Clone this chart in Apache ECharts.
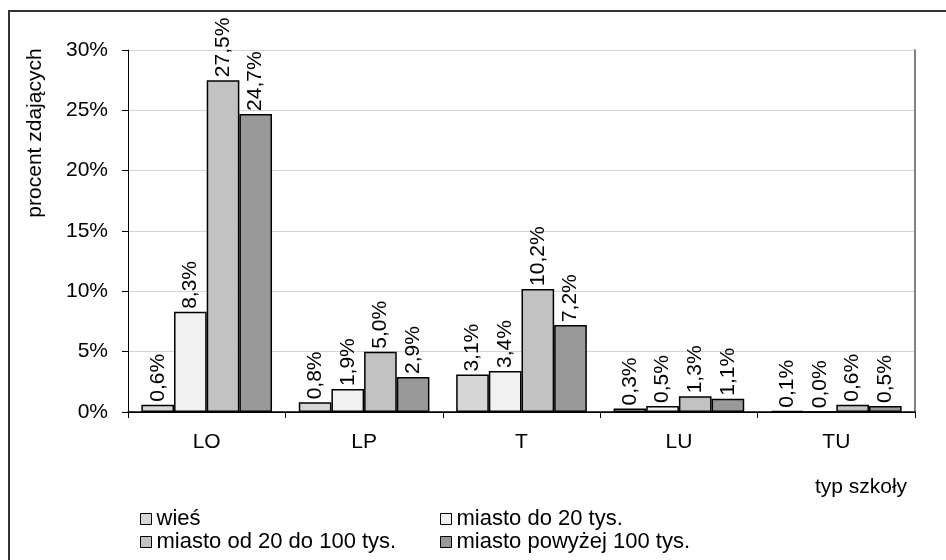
<!DOCTYPE html>
<html>
<head>
<meta charset="utf-8">
<script src="https://cdn.jsdelivr.net/npm/echarts@6/dist/echarts.min.js"></script>
<style>
html, body { margin: 0; padding: 0; background: #fff; }
#chart { width: 946px; height: 560px; }
</style>
</head>
<body>
<div id="chart"></div>
<script>
var categories = ['LO', 'LP', 'T', 'LU', 'TU']
var seriesNames = ['wieś', 'miasto do 20 tys.', 'miasto od 20 do 100 tys.', 'miasto powyżej 100 tys.']
var wies = [0.6, 0.8, 3.1, 0.3, 0.1]
var miastoDo20 = [8.3, 1.9, 3.4, 0.5, 0.0]
var miasto20do100 = [27.5, 5.0, 10.2, 1.3, 0.6]
var miastoPow100 = [24.7, 2.9, 7.2, 1.1, 0.5]
var yTicks = [0, 5, 10, 15, 20, 25, 30]

var colors = ['#d6d6d6', '#f1f1f1', '#c2c2c2', '#999999']
var font = 'Liberation Sans, Arial, sans-serif'

function pct(v) {
    return v.toFixed(1).replace('.', ',') + '%'
}

function makeSeries(name, data, i) {
    return {
        name: name,
        type: 'bar',
        data: data,
        barGap: '0%',
        barCategoryGap: '17%',
        itemStyle: {
            color: colors[i],
            borderColor: '#000',
            borderWidth: 1.5
        },
        label: {
            show: true,
            position: 'top',
            rotate: 90,
            align: 'left',
            verticalAlign: 'middle',
            distance: 3,
            color: '#000',
            fontFamily: font,
            fontSize: 21,
            formatter: function (p) { return pct(p.value) }
        },
        emphasis: { disabled: true }
    }
}

function makeLegend(names, left) {
    return {
        data: names,
        orient: 'vertical',
        left: left,
        top: 503,
        itemWidth: 11,
        itemHeight: 11,
        itemGap: 1,
        icon: 'rect',
        textStyle: { fontFamily: font, fontSize: 22, color: '#000', padding: [0, 0, 0, 0] },
        itemStyle: { borderColor: '#000', borderWidth: 1 }
    }
}

var chart = echarts.init(document.getElementById('chart'))
chart.setOption({
    animation: false,
    grid: { left: 128, right: 31, top: 50, bottom: 148 },
    legend: [
        makeLegend([seriesNames[0], seriesNames[2]], 135),
        makeLegend([seriesNames[1], seriesNames[3]], 435)
    ],
    xAxis: [
        {
            type: 'category',
            data: categories,
            axisLine: { lineStyle: { color: '#000', width: 1 } },
            axisTick: { show: true, length: 6, lineStyle: { color: '#000' } },
            axisLabel: { fontFamily: font, fontSize: 21, color: '#000', margin: 20 }
        },
        {
            type: 'category',
            data: categories,
            position: 'top',
            axisLine: { lineStyle: { color: '#000', width: 1.5 } },
            axisTick: { show: false },
            axisLabel: { show: false }
        }
    ],
    yAxis: [
        {
            type: 'value',
            min: 0,
            max: 30,
            interval: 5,
            axisLine: { show: true, lineStyle: { color: '#000' } },
            axisTick: { show: true, length: 6, lineStyle: { color: '#000' } },
            splitLine: { lineStyle: { color: '#d4d4d4', width: 1 } },
            axisLabel: {
                fontFamily: font, fontSize: 21, color: '#000', margin: 20,
                formatter: function (v) { return yTicks.indexOf(v) >= 0 ? v + '%' : '' }
            }
        },
        {
            type: 'value',
            min: 0,
            max: 30,
            interval: 5,
            position: 'right',
            axisLine: { show: true, lineStyle: { color: '#808080', width: 2 } },
            axisTick: { show: false },
            axisLabel: { show: false },
            splitLine: { show: false }
        }
    ],
    graphic: [
        {
            type: 'rect',
            shape: { x: 9, y: 11, width: 960, height: 580 },
            style: { fill: 'none', stroke: '#333', lineWidth: 2 },
            silent: true
        },
        {
            type: 'text',
            x: 35,
            y: 133,
            rotation: Math.PI / 2,
            style: {
                text: 'procent zdających',
                fontFamily: font,
                fontSize: 21,
                fill: '#000',
                align: 'center',
                verticalAlign: 'middle'
            }
        },
        {
            type: 'text',
            x: 861,
            y: 487,
            style: {
                text: 'typ szkoły',
                fontFamily: font,
                fontSize: 21,
                fill: '#000',
                align: 'center',
                verticalAlign: 'middle'
            }
        }
    ],
    series: [
        makeSeries(seriesNames[0], wies, 0),
        makeSeries(seriesNames[1], miastoDo20, 1),
        makeSeries(seriesNames[2], miasto20do100, 2),
        makeSeries(seriesNames[3], miastoPow100, 3)
    ]
})
</script>
</body>
</html>
